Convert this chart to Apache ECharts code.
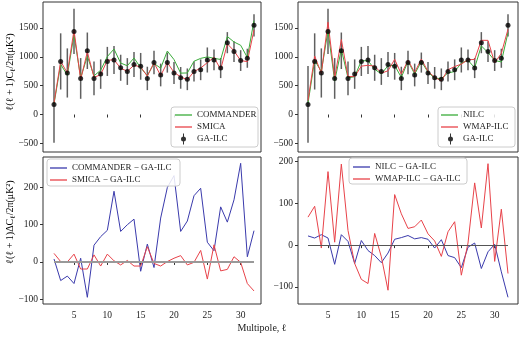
<!DOCTYPE html>
<html>
<head>
<meta charset="utf-8">
<script src="https://cdn.jsdelivr.net/npm/echarts@6/dist/echarts.min.js"></script>
<style>
  html, body { margin: 0; padding: 0; background: #fff; }
  #chart { width: 520px; height: 337px; }
</style>
</head>
<body>
<div id="chart"></div>
<script>
// multipoles
const ell = [2, 3, 4, 5, 6, 7, 8, 9, 10, 11, 12, 13, 14, 15, 16, 17, 18, 19, 20, 21, 22, 23, 24, 25, 26, 27, 28, 29, 30, 31, 32]

// GA-ILC power spectrum and its error bars
const gaIlc = [175, 920, 720, 1440, 625, 1105, 625, 700, 920, 945, 810, 745, 865, 835, 625, 900, 685, 900, 720, 635, 610, 745, 775, 945, 945, 805, 1245, 1090, 935, 975, 1545]
const gaErr = [666, 487, 426, 391, 353, 316, 293, 255, 252, 243, 226, 232, 217, 232, 203, 203, 197, 174, 191, 188, 188, 174, 180, 217, 180, 174, 183, 180, 180, 165, 191]

// other maps
const commander = [183, 870, 682, 1382, 635, 1010, 670, 768, 1005, 1135, 892, 845, 980, 810, 673, 885, 803, 1100, 952, 717, 720, 923, 973, 998, 975, 953, 1352, 1257, 1200, 989, 1629]
const smica = [198, 921, 720, 1461, 606, 1086, 644, 689, 941, 948, 802, 749, 854, 824, 666, 896, 674, 901, 730, 652, 602, 744, 806, 899, 991, 781, 1225, 1104, 934, 917, 1467]
const nilc = [197, 937, 745, 1457, 579, 1130, 634, 656, 931, 932, 785, 703, 846, 849, 643, 923, 700, 918, 734, 628, 623, 720, 745, 891, 940, 810, 1189, 1074, 937, 911, 1420]
const wmapIlc = [242, 1013, 713, 1600, 632, 1299, 660, 656, 838, 853, 838, 717, 757, 956, 700, 940, 729, 960, 747, 645, 583, 777, 831, 873, 950, 954, 1286, 1285, 896, 1061, 1477]

// differences with respect to GA-ILC
const commanderDiff = [8, -50, -38, -58, 10, -95, 45, 68, 85, 190, 82, 100, 115, -25, 48, -15, 118, 200, 232, 82, 110, 178, 198, 53, 30, 148, 107, 167, 265, 14, 84]
const smicaDiff = [23, 1, 0, 21, -19, -19, 19, -11, 21, 3, -8, 4, -11, -11, 41, -4, -11, 1, 10, 17, -8, -1, 31, -46, 46, -24, -20, 14, -1, -58, -78]
const nilcDiff = [22, 17, 25, 17, -46, 25, 9, -44, 11, -13, -25, -42, -19, 14, 18, 23, 15, 18, 14, -7, 13, -25, -30, -54, -5, 5, -56, -16, 2, -64, -125]
const wmapDiff = [67, 93, -7, 176, 7, 194, 35, -44, -82, -92, 28, -28, -108, 121, 75, 40, 44, 60, 27, 10, -27, 32, 56, -72, 5, 149, 41, 195, -39, 86, -68]

// tick labels
const xTicks = [5, 10, 15, 20, 25, 30]
const yTicksTop = [-500, 0, 500, 1000, 1500]
const yTicksBottom = [-100, 0, 100, 200]

const FONT = 'Liberation Serif'
const GREEN = '#3aac3a'
const RED = '#e8434a'
const BLUE = '#3a3aac'
const TXT = '#222'

const pairs = (ys) => ell.map((l, i) => [l, ys[i]])
const fmt = (v) => (v < 0 ? '\u2212' + (-v) : String(v))

function xAxis(gridIndex, min, max, labels) {
  return {
    type: 'value', gridIndex, min, max,
    axisLine: { show: false },
    splitLine: { show: false },
    axisTick: { show: true, length: 3, customValues: xTicks, lineStyle: { color: '#333' } },
    axisLabel: { show: labels, customValues: xTicks, margin: 6, fontFamily: FONT, fontSize: 9.5, color: TXT },
  }
}
function yAxis(gridIndex, min, max, ticks) {
  return {
    type: 'value', gridIndex, min, max,
    axisLine: { show: false },
    splitLine: { show: false },
    axisTick: { show: true, length: 3, customValues: ticks, lineStyle: { color: '#333' } },
    axisLabel: { customValues: ticks, margin: 5, fontFamily: FONT, fontSize: 9.5, color: TXT, formatter: fmt },
  }
}

function errRender(params, api) {
  const a = api.coord([api.value(0), api.value(1)])
  const b = api.coord([api.value(0), api.value(2)])
  return { type: 'line', shape: { x1: a[0], y1: a[1], x2: b[0], y2: b[1] }, style: { stroke: '#606060', lineWidth: 1.5 } }
}
function gaSeries(idx) {
  return [
    {
      type: 'custom', name: 'err' + idx, xAxisIndex: idx, yAxisIndex: idx, z: 1,
      renderItem: errRender,
      data: ell.map((l, i) => [l, gaIlc[i] - gaErr[i], gaIlc[i] + gaErr[i]]),
    },
    {
      type: 'scatter', name: 'GA-ILC', xAxisIndex: idx, yAxisIndex: idx, z: 4,
      symbolSize: 5, itemStyle: { color: '#000' }, data: pairs(gaIlc),
    },
  ]
}
function line(name, idx, ys, color) {
  return {
    type: 'line', name, xAxisIndex: idx, yAxisIndex: idx, z: 3,
    data: pairs(ys), symbol: 'none', showSymbol: false,
    lineStyle: { color, width: 1 }, itemStyle: { color },
  }
}
function zero(idx, color, width) {
  return {
    type: 'line', xAxisIndex: idx, yAxisIndex: idx, data: [], z: 2,
    markLine: {
      silent: true, symbol: 'none', label: { show: false },
      lineStyle: { color, width, type: 'solid' },
      data: [[{ coord: [2, 0] }, { coord: [32, 0] }]],
    },
  }
}

const gaIcon = 'path://M2,0h1v11h-1z M2.5,3a2.5,2.5 0 1,1 0,5a2.5,2.5 0 1,1 0,-5z'
const textStyle = { fontFamily: FONT, fontSize: 9, color: TXT, lineHeight: 10 }
function legend(names, left, top) {
  return {
    data: names.map((name) => ({ name, icon: 'rect' })),
    left, top, orient: 'vertical', padding: 0, itemGap: 2,
    itemWidth: 17, itemHeight: 1.3, z: 12, selectedMode: false, textStyle,
  }
}
function gaLegend(left, top, pad) {
  return {
    data: [{ name: 'GA-ILC', icon: gaIcon }], left, top, orient: 'vertical', padding: 0,
    itemWidth: 5, itemHeight: 11, z: 12, selectedMode: false,
    textStyle: Object.assign({}, textStyle, { padding: [0, 0, 0, pad] }),
  }
}
function box(x, y, w, h) {
  return { type: 'rect', z: 10, shape: { x, y, width: w, height: h, r: 3 }, style: { fill: 'rgba(255,255,255,0.85)', stroke: '#cccccc', lineWidth: 1 } }
}
const rich = {
  n: { fontFamily: FONT, fontSize: 10, color: TXT, verticalAlign: 'middle', lineHeight: 14 },
  s: { fontFamily: FONT, fontSize: 7, color: TXT, verticalAlign: 'bottom', lineHeight: 14 },
}

const chart = echarts.init(document.getElementById('chart'), null, { renderer: 'canvas' })
chart.setOption({
  animation: false,
  backgroundColor: '#fff',
  grid: [
    { left: 43, top: 2, width: 218, height: 150, show: true, borderColor: '#333', borderWidth: 1 },
    { left: 298, top: 2, width: 220, height: 150, show: true, borderColor: '#333', borderWidth: 1 },
    { left: 43, top: 157, width: 218, height: 147, show: true, borderColor: '#333', borderWidth: 1 },
    { left: 298, top: 157, width: 220, height: 147, show: true, borderColor: '#333', borderWidth: 1 },
  ],
  xAxis: [
    xAxis(0, 0.35, 33.05, false),
    xAxis(1, 0.5, 33.5, false),
    xAxis(2, 0.35, 33.05, true),
    xAxis(3, 0.5, 33.5, true),
  ],
  yAxis: [
    yAxis(0, -650, 1950, yTicksTop),
    yAxis(1, -650, 1950, yTicksTop),
    yAxis(2, -113, 282, yTicksBottom),
    yAxis(3, -141, 211, yTicksBottom),
  ],
  legend: [
    legend(['COMMANDER', 'SMICA'], 175, 110),
    gaLegend(181, 133.5, 6),
    legend(['NILC', 'WMAP-ILC'], 441, 110),
    gaLegend(448, 133.5, 5),
    legend(['COMMANDER \u2212 GA-ILC', 'SMICA \u2212 GA-ILC'], 50, 163),
    legend(['NILC \u2212 GA-ILC', 'WMAP-ILC \u2212 GA-ILC'], 353, 162),
  ],
  graphic: [
    box(171, 107, 87, 40),
    box(438, 107, 77, 40),
    box(47, 159, 133, 27),
    box(349, 158, 118, 26),
    {
      type: 'text', x: 10, y: 72, rotation: Math.PI / 2, z: 5,
      style: { text: '{n|\u2113(\u2113 + 1)C}{s|\u2113}{n|/2\u03c0(\u03bcK\u00b2)}', rich, align: 'center', verticalAlign: 'middle' },
    },
    {
      type: 'text', x: 10, y: 222, rotation: Math.PI / 2, z: 5,
      style: { text: '{n|\u2113(\u2113 + 1)\u0394C}{s|\u2113}{n|/2\u03c0(\u03bcK\u00b2)}', rich, align: 'center', verticalAlign: 'middle' },
    },
    {
      type: 'text', x: 262, y: 328, z: 5,
      style: { text: 'Multipole, \u2113', fontFamily: FONT, fontSize: 10, fill: TXT, align: 'center', verticalAlign: 'middle' },
    },
  ],
  series: [
    ...gaSeries(0),
    line('COMMANDER', 0, commander, GREEN),
    line('SMICA', 0, smica, RED),
    ...gaSeries(1),
    line('NILC', 1, nilc, GREEN),
    line('WMAP-ILC', 1, wmapIlc, RED),
    zero(2, '#999999', 2),
    line('COMMANDER \u2212 GA-ILC', 2, commanderDiff, BLUE),
    line('SMICA \u2212 GA-ILC', 2, smicaDiff, RED),
    zero(3, '#555555', 1),
    line('NILC \u2212 GA-ILC', 3, nilcDiff, BLUE),
    line('WMAP-ILC \u2212 GA-ILC', 3, wmapDiff, RED),
  ],
})
</script>
</body>
</html>
